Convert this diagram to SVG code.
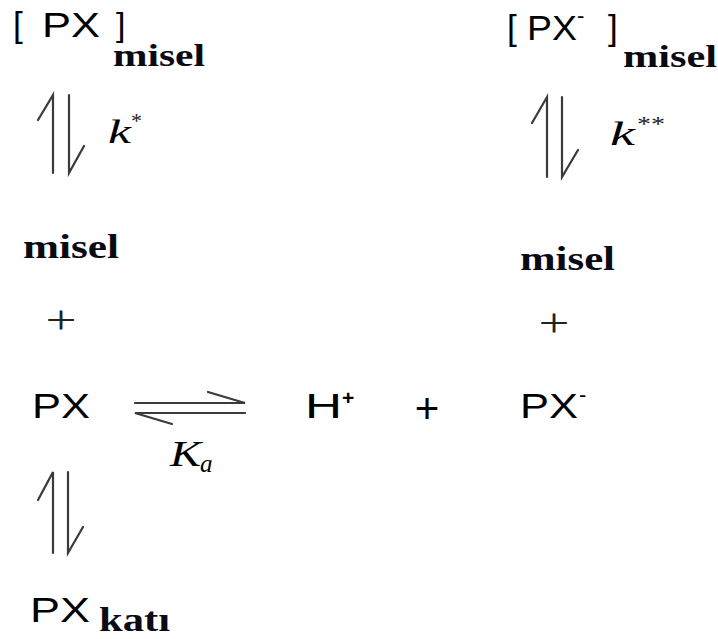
<svg xmlns="http://www.w3.org/2000/svg" width="718" height="639" viewBox="0 0 718 639">
<style>
.sans{font-family:"Liberation Sans",Arial,sans-serif;fill:#000}
.bold{font-family:"Liberation Serif","Times New Roman",serif;font-weight:bold;fill:#0a0a14}
.ital{font-family:"Liberation Serif","Times New Roman",serif;font-style:italic;font-weight:normal;fill:#000}
.serif{font-family:"Liberation Serif","Times New Roman",serif;fill:#222}
.arr{fill:none;stroke:#3a3a3a;stroke-width:2.2;stroke-linecap:round}
</style>
<rect width="718" height="639" fill="#fff"/>
<g id="px-misel">
<text class="sans" x="13" y="37" font-size="35">[</text>
<text class="sans" x="42" y="37" font-size="35" textLength="58" lengthAdjust="spacingAndGlyphs">PX</text>
<text class="sans" x="116" y="36" font-size="34">]</text>
<text class="bold" x="113" y="66" font-size="31" textLength="92" lengthAdjust="spacingAndGlyphs">misel</text>
</g>
<g id="pxminus-misel">
<text class="sans" x="507" y="40" font-size="35">[</text>
<text class="sans" x="527" y="40" font-size="35" textLength="50" lengthAdjust="spacingAndGlyphs">PX</text>
<text class="sans" x="577" y="23" font-size="22">-</text>
<text class="sans" x="608" y="40" font-size="35">]</text>
<text class="bold" x="623" y="67" font-size="31" textLength="94" lengthAdjust="spacingAndGlyphs">misel</text>
</g>
<g id="misel-left">
<text class="bold" x="23" y="258" font-size="33" textLength="96" lengthAdjust="spacingAndGlyphs">misel</text>
</g>
<g id="plus-left">
<text class="serif" x="61" y="333" font-size="40" text-anchor="middle" textLength="31" lengthAdjust="spacingAndGlyphs">+</text>
</g>
<g id="misel-right">
<text class="bold" x="520" y="270" font-size="33" textLength="95" lengthAdjust="spacingAndGlyphs">misel</text>
</g>
<g id="plus-right">
<text class="serif" x="554" y="336" font-size="40" text-anchor="middle" textLength="31" lengthAdjust="spacingAndGlyphs">+</text>
</g>
<g id="px">
<text class="sans" x="32" y="418" font-size="35" textLength="58" lengthAdjust="spacingAndGlyphs">PX</text>
</g>
<g id="h-plus">
<text class="sans" x="305" y="418" font-size="35" textLength="37" lengthAdjust="spacingAndGlyphs">H</text>
<text class="sans" x="342" y="405" font-size="21" font-weight="bold">+</text>
</g>
<g id="plus-mid">
<text class="sans" x="427" y="423" font-size="42" text-anchor="middle">+</text>
</g>
<g id="px-minus">
<text class="sans" x="520" y="418" font-size="35" textLength="58" lengthAdjust="spacingAndGlyphs">PX</text>
<text class="sans" x="579" y="402" font-size="22">-</text>
</g>
<g id="px-kati">
<text class="sans" x="30" y="622" font-size="35" textLength="60" lengthAdjust="spacingAndGlyphs">PX</text>
<text class="bold" x="99" y="631" font-size="34" textLength="71" lengthAdjust="spacingAndGlyphs">katı</text>
</g>
<g id="labels">
<text class="ital" x="108" y="143" font-size="33" textLength="23" lengthAdjust="spacingAndGlyphs">k</text>
<text class="serif" x="131" y="128" font-size="22" fill="#000">*</text>
<text class="ital" x="610" y="145" font-size="33" textLength="25" lengthAdjust="spacingAndGlyphs">k</text>
<text class="serif" x="637" y="131" font-size="22" textLength="28" lengthAdjust="spacingAndGlyphs">**</text>
<text class="ital" x="170" y="466" font-size="35" textLength="31" lengthAdjust="spacingAndGlyphs">K</text>
<text class="ital" x="200" y="472" font-size="25">a</text>
</g>
<g id="connectors">
<path class="arr" d="M53 173 V95 L38 120 M69 95 V173 L84 146"/>
<path class="arr" d="M547 177 V97 L532 123 M562 97 V177 L578 150"/>
<path class="arr" d="M135 403 H245 L208 392 M245 413 H135 L172 424"/>
<path class="arr" d="M53 553 V472 L38 500 M68 472 V553 L83 527"/>
</g>
</svg>
